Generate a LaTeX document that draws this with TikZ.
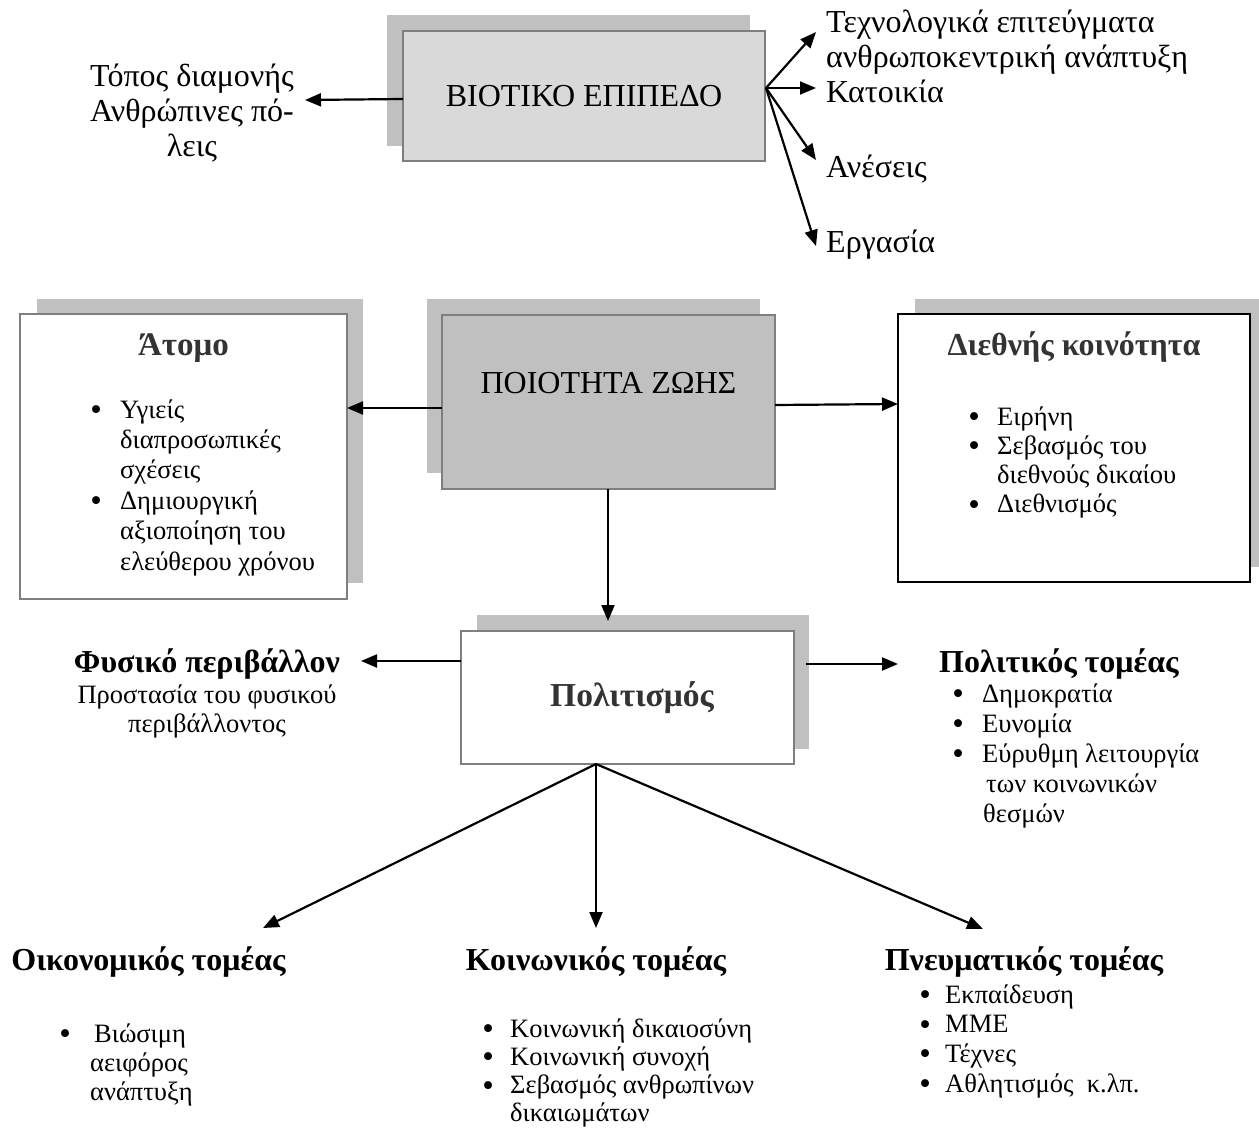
\documentclass[tikz,border=0pt]{standalone}
\usepackage{fontspec}
\setmainfont{Liberation Serif}
\usetikzlibrary{arrows.meta}
\definecolor{shgray}{HTML}{C0C0C0}
\definecolor{lightbox}{HTML}{D9D9D9}
\definecolor{midbox}{HTML}{C0C0C0}
\definecolor{edgegray}{HTML}{7F7F7F}
\definecolor{ttlgray}{HTML}{333333}
\newcommand{\bul}{\smash{\raisebox{-2.5pt}{\fontsize{33}{33}\selectfont •}}}
\newcommand{\blt}[1][18.2]{\llap{\bul\hspace{#1pt}}}
\tikzset{
  shadowbox/.style={fill=shgray, draw=none},
  mainbox/.style={draw=edgegray, line width=2pt, inner sep=0pt},
  boxtxt/.style={font=\fontsize{32}{37}\selectfont},
  toptxt/.style={font=\fontsize{32}{35}\selectfont, inner sep=0pt},
  ttl/.style={font=\fontsize{32}{36}\selectfont\bfseries, inner sep=0pt},
  itm/.style={inner sep=0pt, anchor=base west},
  arr/.style={line width=2.2pt, -{Triangle[length=16pt,width=13pt]}}
}
\begin{document}
\begin{tikzpicture}[x=1pt, y=-1pt]
\useasboundingbox (0,0) rectangle (1259,1137);

% ---------- BIOTIKO box ----------
\fill[shadowbox] (387,15) rectangle (750,146);
\node[mainbox, fill=lightbox, minimum width=362pt, minimum height=130pt, boxtxt] (bio) at (584,96) {ΒΙΟΤΙΚΟ ΕΠΙΠΕΔΟ};

\node[toptxt, align=center, anchor=base] (topos) at (192,87) {\begin{tabular}[t]{@{}c@{}}Τόπος διαμονής\\Ανθρώπινες πό-\\λεις\end{tabular}};
\node[toptxt, anchor=base west] (tech) at (826,33) {\begin{tabular}[t]{@{}l@{}}Τεχνολογικά επιτεύγματα\\ανθρωποκεντρική ανάπτυξη\end{tabular}};
\node[toptxt, anchor=base west] (katoikia) at (826,103) {Κατοικία};
\node[toptxt, anchor=base west] (aneseis) at (826,178) {Ανέσεις};
\node[toptxt, anchor=base west] (ergasia) at (826,252) {Εργασία};

\coordinate (bioL) at (403,99);
\coordinate (toposarr) at (305,100);
\coordinate (bioR) at (766,88);
\coordinate (techarr) at (816,32);
\coordinate (katarr) at (816,88);
\coordinate (anarr) at (816,160);
\coordinate (ergarr) at (816,246);
\draw[arr] (bioL) -- (toposarr);
\draw[arr] (bioR) -- (techarr);
\draw[arr] (bioR) -- (katarr);
\draw[arr] (bioR) -- (anarr);
\draw[arr] (bioR) -- (ergarr);

% ---------- Atomo box ----------
\fill[shadowbox] (37,299) rectangle (363,583);
\node[mainbox, fill=white, minimum width=327pt, minimum height=285pt] (atomo) at (183.5,456.5) {};
\node[ttl, text=ttlgray, font=\fontsize{33}{36}\selectfont\bfseries, anchor=base] (atomottl) at (183.5,355) {Άτομο};
\node[itm, font=\fontsize{26.5}{30.4}\selectfont] (atomolist) at (120,418) {\begin{tabular}[t]{@{}l@{}}\blt Υγιείς\\διαπροσωπικές\\σχέσεις\\\blt Δημιουργική\\αξιοποίηση του\\ελεύθερου χρόνου\end{tabular}};

% ---------- Poiotita box ----------
\fill[shadowbox] (427,299) rectangle (760,473);
\node[mainbox, fill=midbox, minimum width=333pt, minimum height=174pt] (qol) at (608.5,402) {};
\node[boxtxt, inner sep=0pt, anchor=base] (qoltxt) at (608.5,393) {ΠΟΙΟΤΗΤΑ ΖΩΗΣ};

% ---------- Diethnis box ----------
\fill[shadowbox] (915,299) rectangle (1259,567);
\node[draw=black, line width=2.5pt, fill=white, inner sep=0pt, minimum width=352pt, minimum height=268pt] (dieth) at (1074,448) {};
\node[ttl, text=ttlgray, anchor=base] (diethttl) at (1074,355) {Διεθνής κοινότητα};
\node[itm, font=\fontsize{26.5}{29.3}\selectfont] (diethlist) at (997,425) {\begin{tabular}[t]{@{}l@{}}\blt[17.2]Ειρήνη\\\blt[17.2]Σεβασμός του\\διεθνούς δικαίου\\\blt[17.2]Διεθνισμός\end{tabular}};

\coordinate (qolL) at (442,408);
\coordinate (atomoarr) at (347,408);
\coordinate (qolR) at (775,405);
\coordinate (diettharr) at (898,404);
\draw[arr] (qolL) -- (atomoarr);
\draw[arr] (qolR) -- (diettharr);

% ---------- Politismos box ----------
\fill[shadowbox] (477,615) rectangle (809,749);
\node[mainbox, fill=white, minimum width=333pt, minimum height=133pt] (pol) at (627.5,697.5) {};
\node[ttl, text=ttlgray, font=\fontsize{33.5}{36}\selectfont\bfseries, anchor=base] (poltxt) at (632,706) {Πολιτισμός};

\coordinate (qolB) at (608,489);
\coordinate (polarr) at (608,621);
\draw[arr] (qolB) -- (polarr);

% Fysiko
\node[ttl, anchor=base] (fysttl) at (207,672) {Φυσικό περιβάλλον};
\node[itm, anchor=base, font=\fontsize{26.5}{29}\selectfont] (fystxt) at (207,703) {\begin{tabular}[t]{@{}c@{}}Προστασία του φυσικού\\περιβάλλοντος\end{tabular}};
\coordinate (polL) at (461,661);
\coordinate (fysarr) at (361,661);
\draw[arr] (polL) -- (fysarr);

% Politikos
\node[ttl, anchor=base west] (politttl) at (939,672) {Πολιτικός τομέας};
\node[itm, font=\fontsize{26.5}{30}\selectfont] (politlist) at (982,702) {\begin{tabular}[t]{@{}l@{}}\blt Δημοκρατία\\\blt Ευνομία\\\blt Εύρυθμη λειτουργία\\\hspace{4pt}των κοινωνικών\\\hspace{1pt}θεσμών\end{tabular}};
\coordinate (polR) at (806,664);
\coordinate (politarr) at (898,664);
\draw[arr] (polR) -- (politarr);

% ---------- bottom branches ----------
\coordinate (polB) at (596,764);
\coordinate (oikarr) at (263,928);
\coordinate (koinarr) at (596,928);
\coordinate (pneuarr) at (983,929);
\draw[arr] (polB) -- (oikarr);
\draw[arr] (polB) -- (koinarr);
\draw[arr] (polB) -- (pneuarr);

\node[ttl, anchor=base] (oikttl) at (148.5,970) {Οικονομικός τομέας};
\node[itm, font=\fontsize{26.5}{29}\selectfont] (oiklist) at (90,1042) {\begin{tabular}[t]{@{}l@{}}\blt[19.2]\hspace{4pt}Βιώσιμη\\αειφόρος\\ανάπτυξη\end{tabular}};

\node[ttl, anchor=base] (kointtl) at (596,970) {Κοινωνικός τομέας};
\node[itm, font=\fontsize{26.5}{28.3}\selectfont] (koinlist) at (510,1037) {\begin{tabular}[t]{@{}l@{}}\blt[16.2]Κοινωνική δικαιοσύνη\\\blt[16.2]Κοινωνική συνοχή\\\blt[16.2]Σεβασμός ανθρωπίνων\\δικαιωμάτων\end{tabular}};

\node[ttl, anchor=base] (pneuttl) at (1024,970) {Πνευματικός τομέας};
\node[itm, font=\fontsize{26.5}{29.7}\selectfont] (pneulist) at (945,1003) {\begin{tabular}[t]{@{}l@{}}\blt[14.2]Εκπαίδευση\\\blt[14.2]ΜΜΕ\\\blt[14.2]Τέχνες\\\blt[14.2]Αθλητισμός\ \ κ.λπ.\end{tabular}};
\end{tikzpicture}
\end{document}
